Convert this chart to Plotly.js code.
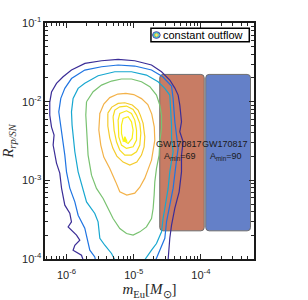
<!DOCTYPE html>
<html><head><meta charset="utf-8">
<script src="https://cdn.plot.ly/plotly-3.0.1.min.js"></script>
<style>html,body{margin:0;padding:0;background:#fff}#chart{width:308px;height:300px}</style>
</head><body><div id="chart"></div>
<script>
// Contour lines, stored as log10(m_Eu) and log10(R_rp/SN)
const purpleLogM = [-5.753,-5.777,-5.902,-5.876,-5.802,-5.851,-5.976,-5.926,-5.951,-6.025,-6.074,-6.100,-6.149,-6.174,-6.199,-6.185,-6.223,-6.249,-6.249,-6.223,-6.149,-6.051,-5.926,-5.726,-5.479,-5.232,-4.984,-4.735,-4.586,-4.463,-4.388,-4.339,-4.314,-4.289,-4.314,-4.265,-4.289,-4.289,-4.324,-4.388,-4.437,-4.463,-4.473,-4.488];
const purpleLogR = [-4.01,-3.952,-3.888,-3.825,-3.761,-3.697,-3.592,-3.528,-3.417,-3.316,-3.099,-2.908,-2.781,-2.679,-2.552,-2.425,-2.323,-2.171,-2.005,-1.878,-1.767,-1.683,-1.598,-1.513,-1.480,-1.462,-1.480,-1.534,-1.620,-1.725,-1.827,-1.916,-2.043,-2.256,-2.383,-2.510,-2.679,-2.892,-3.146,-3.354,-3.570,-3.736,-3.863,-4.01];

const blueLogM = [-5.571,-5.579,-5.653,-5.679,-5.728,-5.827,-5.876,-5.951,-6.000,-6.025,-6.051,-6.074,-6.100,-6.115,-6.085,-6.025,-5.926,-5.728,-5.479,-5.232,-4.984,-4.735,-4.567,-4.437,-4.414,-4.404,-4.388,-4.363,-4.339,-4.363,-4.388,-4.414,-4.463,-4.512,-4.537,-4.612,-4.671];
const blueLogR = [-4.01,-3.973,-3.888,-3.783,-3.608,-3.443,-3.274,-3.099,-2.892,-2.679,-2.510,-2.383,-2.256,-2.129,-1.958,-1.831,-1.706,-1.598,-1.556,-1.534,-1.547,-1.598,-1.683,-1.802,-1.958,-2.085,-2.256,-2.425,-2.594,-2.743,-2.892,-3.103,-3.316,-3.528,-3.736,-3.888,-4.01];

const cyanLogM = [-5.281,-5.330,-5.430,-5.504,-5.530,-5.579,-5.702,-5.753,-5.827,-5.876,-5.902,-5.917,-5.926,-5.902,-5.827,-5.728,-5.530,-5.281,-5.033,-4.810,-4.637,-4.537,-4.463,-4.448,-4.437,-4.437,-4.414,-4.463,-4.488,-4.537,-4.563,-4.586,-4.661,-4.735,-4.835];
const cyanLogR = [-4.01,-3.930,-3.825,-3.736,-3.528,-3.421,-3.274,-3.103,-2.892,-2.637,-2.467,-2.298,-2.129,-1.958,-1.831,-1.767,-1.671,-1.620,-1.620,-1.662,-1.747,-1.831,-1.916,-2.129,-2.298,-2.463,-2.637,-2.892,-3.103,-3.358,-3.485,-3.655,-3.803,-3.888,-4.01];

const greenLogM = [-5.702,-5.604,-5.479,-5.330,-5.182,-5.033,-4.884,-4.760,-4.661,-4.612,-4.586,-4.586,-4.612,-4.622,-4.661,-4.686,-4.696,-4.711,-4.735,-4.810,-4.909,-5.009,-5.107,-5.207,-5.307,-5.381,-5.455,-5.554,-5.628,-5.679,-5.702,-5.713,-5.702];
const greenLogR = [-2.001,-1.874,-1.789,-1.738,-1.712,-1.712,-1.747,-1.810,-1.916,-2.043,-2.171,-2.340,-2.510,-2.679,-2.849,-3.019,-3.188,-3.358,-3.485,-3.592,-3.655,-3.697,-3.676,-3.612,-3.485,-3.358,-3.230,-3.103,-2.934,-2.679,-2.383,-2.171,-2.001];

const orangeLogM = [-5.504,-5.445,-5.356,-5.237,-5.118,-4.999,-4.884,-4.790,-4.731,-4.694,-4.686,-4.711,-4.735,-4.790,-4.835,-4.909,-4.984,-5.103,-5.207,-5.266,-5.356,-5.445,-5.490,-5.519,-5.504];
const orangeLogR = [-2.149,-2.031,-1.948,-1.903,-1.894,-1.910,-1.961,-2.037,-2.158,-2.319,-2.489,-2.616,-2.743,-2.870,-2.972,-3.087,-3.163,-3.188,-3.146,-3.023,-2.849,-2.705,-2.552,-2.361,-2.149];

const gold1LogM = [-5.385,-5.326,-5.232,-5.132,-5.021,-4.935,-4.902,-4.860,-4.835,-4.845,-4.884,-4.954,-5.058,-5.158,-5.251,-5.311,-5.356,-5.385,-5.385];
const gold1LogR = [-2.146,-2.069,-2.022,-2.014,-2.043,-2.107,-2.171,-2.276,-2.447,-2.574,-2.679,-2.768,-2.807,-2.768,-2.692,-2.590,-2.463,-2.310,-2.146];

const gold2LogM = [-5.307,-5.281,-5.207,-5.107,-5.009,-4.958,-4.909,-4.894,-4.909,-4.958,-5.033,-5.132,-5.207,-5.256,-5.292,-5.307];
const gold2LogR = [-2.192,-2.107,-2.065,-2.056,-2.098,-2.171,-2.276,-2.400,-2.552,-2.637,-2.679,-2.679,-2.616,-2.510,-2.361,-2.192];

const gold3LogM = [-5.232,-5.207,-5.107,-5.033,-4.984,-4.958,-4.958,-5.009,-5.107,-5.182,-5.222,-5.232,-5.232];
const gold3LogR = [-2.234,-2.149,-2.116,-2.149,-2.234,-2.361,-2.489,-2.574,-2.594,-2.552,-2.447,-2.340,-2.234];

const gold4LogM = [-5.182,-5.158,-5.083,-5.033,-5.009,-5.024,-5.083,-5.158,-5.182,-5.182];
const gold4LogR = [-2.298,-2.213,-2.192,-2.256,-2.361,-2.467,-2.531,-2.489,-2.403,-2.298];

const peakLogM = [-5.132,-5.103,-5.155,-5.132];
const peakLogR = [-2.447,-2.501,-2.501,-2.447];

// GW170817 boxes
const gwLabels = ['GW170817','GW170817'];
const gwAmin = [69, 90];
const gwMlow = [2.44e-5, 1.18e-4];
const gwMhigh = [1.12e-4, 5.47e-4];
const gwRlow = [2.28e-4, 2.28e-4];
const gwRhigh = [2.22e-2, 2.22e-2];

// ticks
const xTickVals = [1e-6, 1e-5, 1e-4];
const xTickText = ['10<sup>-6</sup>','10<sup>-5</sup>','10<sup>-4</sup>'];
const yTickVals = [1e-4, 1e-3, 1e-2, 1e-1];
const yTickText = ['10<sup>-4</sup>','10<sup>-3</sup>','10<sup>-2</sup>','10<sup>-1</sup>'];
const cbTickVals = [0, -1, -2, -3, -4, -5];
const cbTickText = ['0','-1','-2','-3','-4','-5'];
const legendLabel = 'constant outflow';

const parula = [[0,'#352a87'],[0.125,'#0f5cdd'],[0.25,'#1481d6'],[0.375,'#06a4ca'],[0.5,'#2eb7a4'],[0.625,'#87bf77'],[0.75,'#d1bb59'],[0.875,'#fec832'],[1,'#f9fb0e']];

const pow10 = a => a.map(v => Math.pow(10, v));
function line(lm, lr, color, fill) {
  const t = {x: pow10(lm), y: pow10(lr), type:'scatter', mode:'lines',
    line:{color:color, width:1.2}, hoverinfo:'skip', showlegend:false, cliponaxis:true};
  if (fill) { t.fill = 'toself'; t.fillcolor = color; }
  return t;
}

const traces = [
  line(purpleLogM, purpleLogR, '#3b2d97'),
  line(blueLogM, blueLogR, '#1f74e2'),
  line(cyanLogM, cyanLogR, '#17a7d0'),
  line(greenLogM, greenLogR, '#79c271'),
  line(orangeLogM, orangeLogR, '#f3b249'),
  line(gold1LogM, gold1LogR, '#f4cb2e'),
  line(gold2LogM, gold2LogR, '#f6dc22'),
  line(gold3LogM, gold3LogR, '#f8e61a'),
  line(gold4LogM, gold4LogR, '#f9ef16'),
  line(peakLogM, peakLogR, '#f9f812', true),
  {x:[], y:[], type:'scatter', mode:'markers', showlegend:false, hoverinfo:'skip',
   marker:{color:[], cmin:-5, cmax:0, colorscale:parula, showscale:true,
     colorbar:{x:1.0287, xanchor:'left', xpad:0, y:0.5, yanchor:'middle', len:1, lenmode:'fraction', ypad:0,
       thickness:11, thicknessmode:'pixels', outlinewidth:1, outlinecolor:'#8c8c8c',
       tickmode:'array', tickvals:cbTickVals, ticktext:cbTickText, ticks:'inside', ticklen:3, tickcolor:'#262626',
       tickfont:{family:'Liberation Sans, Arial, sans-serif', size:11, color:'#262626'}}}}
];

const boxColors = ['#c87c64', '#6480c8'];
const shapes = [];
const annotations = [];
const kx = Math.pow(10, 0.05), ky = Math.pow(10, 0.043);
for (let i = 0; i < gwLabels.length; i++) {
  const x0 = gwMlow[i], x1 = gwMhigh[i], y0 = gwRlow[i], y1 = gwRhigh[i];
  const p = `M${x0*kx},${y0} L${x1/kx},${y0} Q${x1},${y0} ${x1},${y0*ky} L${x1},${y1/ky} Q${x1},${y1} ${x1/kx},${y1} L${x0*kx},${y1} Q${x0},${y1} ${x0},${y1/ky} L${x0},${y0*ky} Q${x0},${y0} ${x0*kx},${y0} Z`;
  shapes.push({type:'path', xref:'x', yref:'y', path:p, fillcolor:boxColors[i], line:{color:'#6e6e6e', width:1}, layer:'below'});
  annotations.push({xref:'x', yref:'y', x:Math.log10(x0)+0.29, y:-2.533, text:gwLabels[i], showarrow:false,
    xanchor:'center', yanchor:'middle', font:{family:'Liberation Sans, Arial, sans-serif', size:9, color:'#1a1a1a'}});
  annotations.push({xref:'x', yref:'y', x:Math.log10(x0)+0.29, y:-2.70, text:'A<sub>min</sub>=' + gwAmin[i], showarrow:false,
    xanchor:'center', yanchor:'middle', font:{family:'Liberation Sans, Arial, sans-serif', size:9, color:'#1a1a1a'}});
}
// legend box
shapes.push({type:'rect', xref:'paper', yref:'paper', x0:0.507, x1:0.9775, y0:0.9207, y1:0.9775,
  fillcolor:'#ffffff', line:{color:'#000000', width:1.5}, layer:'above'});
const iconRings = [[3.8,3.3,'#3b2d97'],[2.9,2.5,'#17a7d0'],[2.0,1.7,'#79c271'],[1.1,0.9,'#f4cb2e']];
iconRings.forEach(r => shapes.push({type:'circle', xref:'paper', yref:'paper', xsizemode:'pixel', ysizemode:'pixel',
  xanchor:0.533, yanchor:0.949, x0:-r[0], x1:r[0], y0:-r[1], y1:r[1], fillcolor:'rgba(0,0,0,0)',
  line:{color:r[2], width:1}, layer:'above'}));
annotations.push({xref:'paper', yref:'paper', x:0.555, y:0.949, xanchor:'left', yanchor:'middle', text:legendLabel,
  showarrow:false, font:{family:'Liberation Sans, Arial, sans-serif', size:11, color:'#000'}});

const axisCommon = {
  type:'log', showgrid:false, zeroline:false, showline:true, linecolor:'#1a1a1a', linewidth:1.6, mirror:'allticks',
  ticks:'inside', ticklen:5, tickwidth:1, tickcolor:'#262626', tickmode:'array',
  minor:{ticks:'inside', ticklen:3, tickwidth:1, tickcolor:'#262626', dtick:'D1', showgrid:false},
  tickfont:{family:'Liberation Sans, Arial, sans-serif', size:11, color:'#262626'}
};

const layout = {
  width:308, height:300, margin:{l:45, r:54, t:23, b:41}, paper_bgcolor:'#fff', plot_bgcolor:'#fff',
  showlegend:false,
  xaxis: Object.assign({}, axisCommon, {range:[-6.32,-3.21], tickvals:xTickVals, ticktext:xTickText, ticklabelstandoff:5,
    title:{text:'<i>m</i><sub>Eu</sub>[<i>M</i><sub>⊙</sub>]', font:{family:'Liberation Serif, serif', size:15, color:'#262626'}, standoff:4}}),
  yaxis: Object.assign({}, axisCommon, {range:[-4,-1], tickvals:yTickVals, ticktext:yTickText,
    title:{text:'<i>R</i><sub><i>rp/SN</i></sub>', font:{family:'Liberation Serif, serif', size:15, color:'#262626'}, standoff:6}}),
  shapes:shapes, annotations:annotations
};

Plotly.newPlot('chart', traces, layout, {staticPlot:true, displayModeBar:false});
</script></body></html>
